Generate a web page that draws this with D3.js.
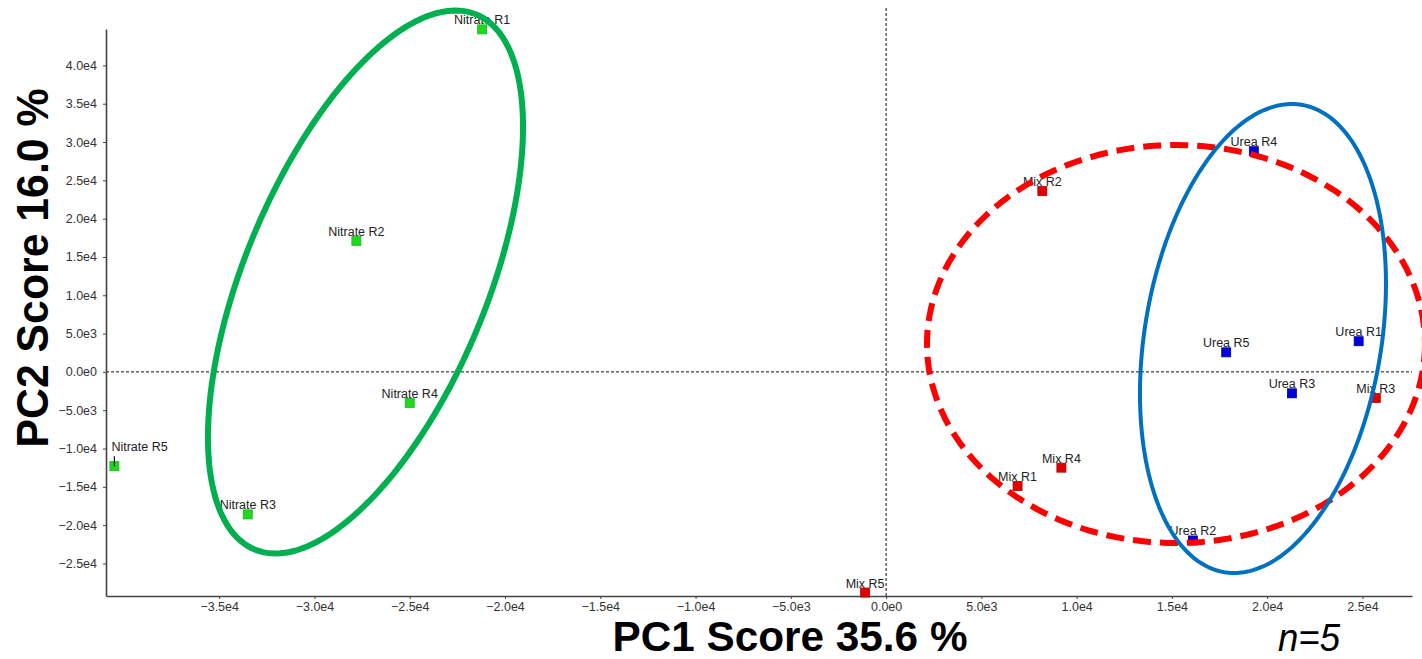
<!DOCTYPE html>
<html>
<head>
<meta charset="utf-8">
<script src="https://cdn.jsdelivr.net/npm/d3@7"></script>
<style>
    body { margin: 0; background: #fff; }
    svg { display: block; font-family: "Liberation Sans", Arial, sans-serif; }
    .tick text { fill: #333; font-size: 12.5px; }
    .ptLabel { fill: #222; font-size: 12.5px; }
</style>
</head>
<body>
<svg id="svg-pca" width="1422" height="659"></svg>
<script>
// 样本名 / 组别 / 得分
const sampleNames = ['Nitrate R1', 'Nitrate R2', 'Nitrate R3', 'Nitrate R4', 'Nitrate R5',
    'Mix R1', 'Mix R2', 'Mix R3', 'Mix R4', 'Mix R5',
    'Urea R1', 'Urea R2', 'Urea R3', 'Urea R4', 'Urea R5'];
const sampleGroups = ['Nitrate', 'Nitrate', 'Nitrate', 'Nitrate', 'Nitrate',
    'Mix', 'Mix', 'Mix', 'Mix', 'Mix',
    'Urea', 'Urea', 'Urea', 'Urea', 'Urea'];
const pc1Scores = [-21200, -27800, -33500, -25000, -40500,
    6900, 8200, 25700, 9200, -1100,
    24800, 16100, 21300, 19300, 17850];
const pc2Scores = [44700, 17100, -18600, -4050, -12300,
    -14900, 23600, -3400, -12500, -28800,
    4000, -22000, -2800, 28800, 2550];

// 刻度
const xTicks = [-35000, -30000, -25000, -20000, -15000, -10000, -5000, 0, 5000, 10000, 15000, 20000, 25000];
const yTicks = [-25000, -20000, -15000, -10000, -5000, 0, 5000, 10000, 15000, 20000, 25000, 30000, 35000, 40000];

// 圈 (中心 + 两个半轴向量, 数据单位)
const ellipseGroups = ['Nitrate', 'Mix', 'Urea'];
const ellipseCenters = [[-27322, 11730], [15213, 3638], [19779, 4356]];
const ellipseAxisA = [[5815, 34913], [13067, 0], [2024, 30501]];
const ellipseAxisB = [[5878, -6056], [0, -25972], [6130, -2516]];

const colorDict = {
    'Nitrate': {fill: '#1fd81f', stroke: '#17b817'},
    'Mix': {fill: '#e00000', stroke: '#b00000'},
    'Urea': {fill: '#0000e0', stroke: '#000090'}
};
const ellipseStyle = {
    'Nitrate': {color: '#00b050', width: 6, dash: null},
    'Mix': {color: '#ff0000', width: 6, dash: '18,9'},
    'Urea': {color: '#0070c0', width: 4, dash: null}
};

let plotLeft = 106, plotRight = 1412, plotTop = 29, plotBottom = 596;

let svg = d3.select('#svg-pca');

let x = d3.scaleLinear().domain([-40940, 27600]).range([plotLeft, plotRight]);
let y = d3.scaleLinear().domain([-29250, 44750]).range([plotBottom, plotTop]);

let fmt = v => d3.format('.1e')(v).replace('+', '');

// 零线
svg.append('line')
    .attr('x1', plotLeft).attr('x2', plotRight)
    .attr('y1', y(0)).attr('y2', y(0))
    .style('stroke', '#111').style('stroke-width', 1).style('stroke-dasharray', '3,2');
svg.append('line')
    .attr('x1', x(0)).attr('x2', x(0))
    .attr('y1', 8).attr('y2', plotBottom)
    .style('stroke', '#111').style('stroke-width', 1).style('stroke-dasharray', '3,2');

// 坐标轴
let gx = svg.append('g')
    .attr('transform', 'translate(0,' + plotBottom + ')')
    .call(d3.axisBottom(x).tickValues(xTicks).tickSize(3).tickSizeOuter(0).tickFormat(fmt));
let gy = svg.append('g')
    .attr('transform', 'translate(' + plotLeft + ',0)')
    .call(d3.axisLeft(y).tickValues(yTicks).tickSize(3).tickSizeOuter(0).tickFormat(fmt));
[gx, gy].forEach(function (g) {
    g.select('.domain').style('stroke', '#444').style('stroke-width', 1.6);
    g.selectAll('.tick line').style('stroke', '#444');
    g.selectAll('.tick text').attr('font-family', null).attr('font-size', null);
});
gx.selectAll('.tick text').attr('dy', null).attr('y', 15);
gy.selectAll('.tick text').attr('x', -9);

// 点
let pts = sampleNames.map((d, i) => ({name: d, group: sampleGroups[i], pc1: pc1Scores[i], pc2: pc2Scores[i]}));
let sq = 9;

svg.selectAll('.pt')
    .data(pts)
    .enter()
    .append('rect')
    .attr('class', 'pt')
    .attr('x', d => x(d.pc1) - sq / 2)
    .attr('y', d => y(d.pc2) - sq / 2)
    .attr('width', sq)
    .attr('height', sq)
    .attr('fill', d => colorDict[d.group].fill)
    .style('stroke', d => colorDict[d.group].stroke)
    .style('stroke-width', 0.8);

// 标签 (靠左边界的那个往右放, 画一根引线)
let atEdge = d => x(d.pc1) - sq / 2 < plotLeft + 12;

svg.selectAll('.ptLabel')
    .data(pts)
    .enter()
    .append('text')
    .attr('class', 'ptLabel')
    .attr('x', d => atEdge(d) ? x(d.pc1) - 3 : x(d.pc1))
    .attr('y', d => atEdge(d) ? y(d.pc2) - 15 : y(d.pc2) - 5)
    .style('text-anchor', d => atEdge(d) ? 'start' : 'middle')
    .text(d => d.name);

svg.selectAll('.leader')
    .data(pts.filter(atEdge))
    .enter()
    .append('line')
    .attr('x1', d => x(d.pc1)).attr('x2', d => x(d.pc1))
    .attr('y1', d => y(d.pc2) - 10).attr('y2', d => y(d.pc2))
    .style('stroke', '#111').style('stroke-width', 1.2);

// 圈
let line = d3.line().curve(d3.curveLinearClosed);
ellipseGroups.forEach(function (g, i) {
    let c = ellipseCenters[i], a = ellipseAxisA[i], b = ellipseAxisB[i];
    let path = d3.range(180).map(function (k) {
        let t = k / 180 * 2 * Math.PI;
        return [x(c[0] + a[0] * Math.cos(t) + b[0] * Math.sin(t)),
            y(c[1] + a[1] * Math.cos(t) + b[1] * Math.sin(t))];
    });
    let st = ellipseStyle[g];
    svg.append('path')
        .attr('d', line(path))
        .attr('fill', 'none')
        .style('stroke', st.color)
        .style('stroke-width', st.width)
        .style('stroke-dasharray', st.dash);
});

// 轴标题
svg.append('text')
    .attr('x', 790)
    .attr('y', 651)
    .style('text-anchor', 'middle')
    .style('font-weight', 'bold')
    .style('font-size', '42px')
    .attr('textLength', 355)
    .attr('lengthAdjust', 'spacingAndGlyphs')
    .style('fill', '#000')
    .text('PC1 Score 35.6 %');

svg.append('text')
    .attr('transform', 'translate(48,268) rotate(-90)')
    .style('text-anchor', 'middle')
    .style('font-weight', 'bold')
    .style('font-size', '44px')
    .attr('textLength', 359)
    .attr('lengthAdjust', 'spacingAndGlyphs')
    .style('fill', '#000')
    .text('PC2 Score 16.0 %');

svg.append('text')
    .attr('x', 1309)
    .attr('y', 651)
    .style('text-anchor', 'middle')
    .style('font-style', 'italic')
    .style('font-size', '38px')
    .attr('textLength', 62)
    .attr('lengthAdjust', 'spacingAndGlyphs')
    .style('fill', '#000')
    .text('n=5');
</script>
</body>
</html>
